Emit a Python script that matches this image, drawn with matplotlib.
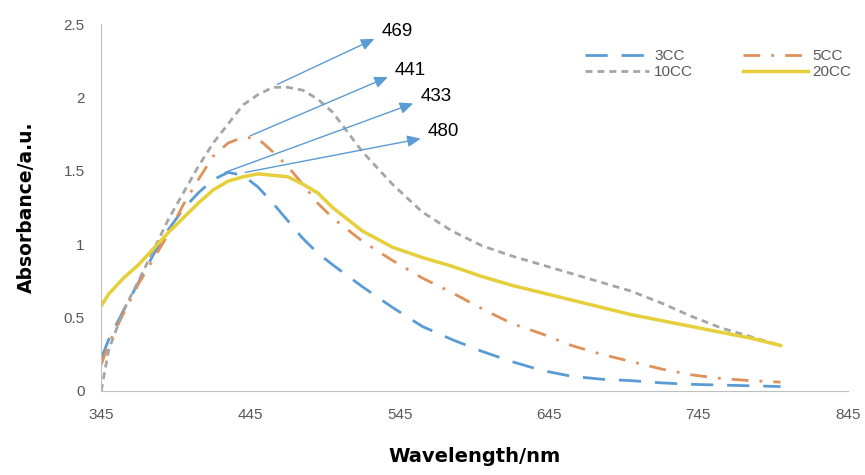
import numpy as np
import matplotlib
matplotlib.use("Agg")
import matplotlib.pyplot as plt

# wavelength grid (nm) and absorbance
wavelength = [345, 350, 360, 370, 380, 390, 400, 410, 420, 430, 440, 450, 460, 470, 480, 490,
              500, 520, 540, 560, 580, 600, 620, 640, 660, 680, 700, 720, 740, 760, 780, 800]
abs_3cc = [0.22, 0.35, 0.55, 0.74, 0.93, 1.10, 1.24, 1.35, 1.44, 1.49, 1.47, 1.39, 1.28, 1.16, 1.04, 0.94,
           0.86, 0.71, 0.57, 0.44, 0.35, 0.27, 0.20, 0.14, 0.10, 0.08, 0.07, 0.055, 0.045, 0.04, 0.035, 0.03]
abs_5cc = [0.18, 0.32, 0.53, 0.73, 0.90, 1.07, 1.27, 1.44, 1.60, 1.69, 1.73, 1.72, 1.63, 1.53, 1.41, 1.28,
           1.18, 1.02, 0.89, 0.77, 0.67, 0.56, 0.46, 0.39, 0.31, 0.25, 0.20, 0.15, 0.11, 0.085, 0.07, 0.06]
abs_10cc = [0.0, 0.28, 0.55, 0.75, 0.96, 1.17, 1.35, 1.53, 1.69, 1.82, 1.95, 2.02, 2.07, 2.07, 2.05, 1.99,
            1.90, 1.63, 1.41, 1.22, 1.09, 0.99, 0.92, 0.86, 0.80, 0.74, 0.68, 0.60, 0.51, 0.43, 0.37, 0.31]
abs_20cc = [0.58, 0.66, 0.77, 0.86, 0.97, 1.08, 1.18, 1.28, 1.37, 1.43, 1.46, 1.48, 1.47, 1.46, 1.41, 1.35,
            1.25, 1.09, 0.98, 0.91, 0.85, 0.78, 0.72, 0.67, 0.62, 0.57, 0.52, 0.48, 0.44, 0.40, 0.36, 0.31]

# peak labels: text, arrow start (on curve), arrow tip
peak_text = ["469", "441", "433", "480"]
peak_from = [(463, 2.09), (445, 1.74), (428, 1.49), (441.5, 1.49)]
peak_to = [(528, 2.40), (537, 2.14), (554, 1.96), (559, 1.72)]

x_ticks = [345, 445, 545, 645, 745, 845]
y_ticks = [0, 0.5, 1, 1.5, 2, 2.5]
y_tick_labels = ["0", "0.5", "1", "1.5", "2", "2.5"]

c_blue = "#5B9BD5"
c_orange = "#E0915A"
c_grey = "#A5A5A5"
c_yellow = "#E6CF3A"

fig = plt.figure(figsize=(8.65, 4.75), dpi=100)
ax = fig.add_axes([0.117, 0.177, 0.863, 0.772])

l3, = ax.plot(wavelength, abs_3cc, color=c_blue, lw=2.0, dashes=(8, 5), label="3CC")
l5, = ax.plot(wavelength, abs_5cc, color=c_orange, lw=2.0, dashes=(6, 4, 1, 4), label="5CC")
l10, = ax.plot(wavelength, abs_10cc, color=c_grey, lw=2.0, dashes=(2.5, 1.8), label="10CC")
l20, = ax.plot(wavelength, abs_20cc, color=c_yellow, lw=2.5, label="20CC")

for txt, p0, p1 in zip(peak_text, peak_from, peak_to):
    ax.annotate("", xy=p1, xytext=p0,
                arrowprops=dict(arrowstyle="-|>,head_length=0.8,head_width=0.35",
                                color=c_blue, lw=1.0, shrinkA=0, shrinkB=0))
    ax.annotate(txt, xy=p1, xytext=(5, 5), textcoords="offset points",
                fontsize=13.5, family="Liberation Sans", color="black", va="center", ha="left")

ax.set_xlim(345, 845)
ax.set_ylim(0, 2.5)
ax.set_xticks(x_ticks)
ax.set_yticks(y_ticks)
ax.set_yticklabels(y_tick_labels)
ax.tick_params(length=0, labelsize=11, labelcolor="#595959", pad=12)
for lab in ax.get_xticklabels() + ax.get_yticklabels():
    lab.set_family("Liberation Sans")
for s in ["top", "right"]:
    ax.spines[s].set_visible(False)
ax.spines["left"].set_color("#BFBFBF")
ax.spines["bottom"].set_color("#BFBFBF")

ax.set_xlabel("Wavelength/nm", fontsize=14, fontweight="bold", labelpad=18)
ax.set_ylabel("Absorbance/a.u.", fontsize=13.5, fontweight="bold", labelpad=20)

leg = ax.legend(handles=[l3, l10, l5, l20], ncol=2, loc="upper left",
                bbox_to_anchor=(0.63, 0.97), frameon=False, handlelength=4.2,
                columnspacing=3.3, handletextpad=0.3, labelspacing=0.15,
                prop={"family": "Liberation Sans", "size": 11})
for t in leg.get_texts():
    t.set_color("#595959")

fig.savefig("out.png", dpi=100)
